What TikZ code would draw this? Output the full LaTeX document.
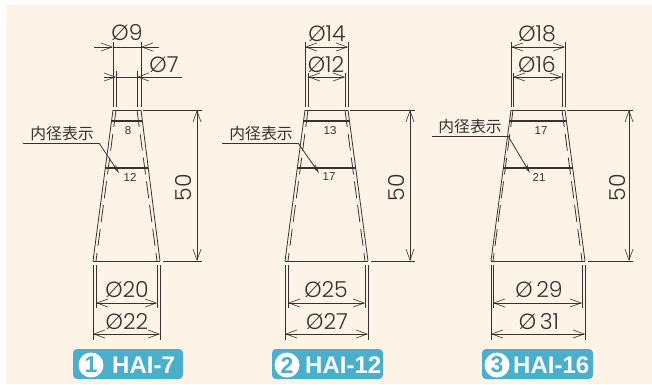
\documentclass[tikz,border=0pt]{standalone}
\usepackage{fontspec}
\usetikzlibrary{arrows.meta}
\setmainfont{Liberation Sans}
\newfontfamily\dimfont[UprightFont=* Light]{Poppins}
\newfontfamily\cjkfont{Noto Sans CJK JP}
\definecolor{paper}{HTML}{FDF3E7}
\definecolor{ink}{HTML}{35322F}
\definecolor{badge}{HTML}{4BAECB}
\tikzset{
  line/.style={draw=ink,line width=0.8pt},
  band/.style={draw=ink,line width=1.5pt},
  innerwall/.style={draw=ink,line width=0.8pt,dash pattern=on 17pt off 7pt},
  dimarrow/.style={draw=ink,line width=0.8pt,{Straight Barb[length=11pt,width=8pt,line width=0.6pt]}-{Straight Barb[length=11pt,width=8pt,line width=0.6pt]}},
  onearrow/.style={draw=ink,line width=0.8pt,-{Straight Barb[length=11pt,width=8pt,line width=0.6pt]}},
  leader/.style={draw=ink,line width=0.8pt,-{Stealth[length=9pt,width=4pt]}},
  dimtext/.style={text=ink,font=\dimfont\fontsize{22}{22}\selectfont,inner sep=0pt},
  smalltext/.style={text=ink,font=\fontsize{11.5}{11.5}\selectfont,inner sep=0pt},
  noteText/.style={text=ink,font=\cjkfont\fontsize{15.8}{16}\selectfont,inner sep=0pt},
  badgebox/.style={fill=badge,rounded corners=4pt,draw=none},
  badgedisc/.style={circle,fill=white,minimum size=25pt,inner sep=0pt,text=badge,font=\bfseries\fontsize{23}{23}\selectfont},
  badgetext/.style={text=white,font=\bfseries\fontsize{24}{24}\selectfont,inner sep=0pt,anchor=west},
}
\begin{document}
\begin{tikzpicture}[x=1pt,y=-1pt]
\path[use as bounding box] (0,0) rectangle (652,384);
\fill[white] (0,0) rectangle (652,384);
\fill[paper] (6,5) rectangle (652,384);
\foreach \n/\xa/\xb/\xc/\xd/\xe/\xf/\xg/\xh/\dimx/\rend/\fifty/\bxa/\bxb/\disc/\hx/\na/\nb/\tb/\tc/\hai in
{1/113/141/116/137/93/160/96/157/197/202/184/73/183/91/112/8/12/128/130/HAI-7,
 2/305/348/308/345/285/368/288/365/410/415/397/272/383/287/305/13/17/330/329/HAI-12,
 3/511/565/513/562/491/585/493/582/629/633/618/482/593/497/513/17/21/541/539/HAI-16}
{
  \coordinate (tl\n) at (\xa,110); \coordinate (tr\n) at (\xb,110);
  \coordinate (bl\n) at (\xe,261); \coordinate (br\n) at (\xf,261);
  \draw[line] (tl\n) -- (tr\n);
  \draw[line] (bl\n) -- (br\n);
  \draw[line] (tl\n) -- (bl\n);
  \draw[line] (tr\n) -- (br\n);
  \draw[innerwall] (\xc,110) -- (\xg,261);
  \draw[innerwall] (\xd,110) -- (\xh,261);
  \draw[line] (\xe,265) -- (\xe,340);
  \draw[line] (\xf,265) -- (\xf,340);
  \draw[line] (\xg,265) -- (\xg,308);
  \draw[line] (\xh,265) -- (\xh,308);
  \draw[dimarrow] (\xg,303) -- (\xh,303);
  \draw[dimarrow] (\xe,334) -- (\xf,334);
  \draw[line] (\xb+2,110) -- (\rend,110);
  \draw[line] (\xf+3,261) -- (\rend,261);
  \draw[dimarrow] (\dimx,110) -- (\dimx,261);
  \node[dimtext,rotate=90] (h\n) at (\fifty,188) {50};
  \node[smalltext] (sa\n) at (\tb,131) {\na};
  \node[smalltext] (sb\n) at (\tc,177) {\nb};
  \fill[badgebox] (\bxa,349) rectangle (\bxb,379);
  \node[badgedisc] (d\n) at (\disc,365) {\n};
  \node[badgetext] (t\n) at (\hx,365) {\hai};
}
\draw[band] (111,121) -- (142,121); \draw[band] (105,168) -- (148,168);
\draw[band] (303,121) -- (350,121); \draw[band] (297,168) -- (356,168);
\draw[band] (509,121) -- (567,121); \draw[band] (503,168) -- (573,168);
\node[noteText] (n1) at (62,134) {内径表示};
\node[noteText] (n2) at (261,134) {内径表示};
\node[noteText] (n3) at (470,127) {内径表示};
\coordinate (a1) at (23,143); \coordinate (k1) at (99,143); \coordinate (p1) at (119,173);
\coordinate (a2) at (222,143); \coordinate (k2) at (298,143); \coordinate (p2) at (319,173);
\coordinate (a3) at (432,136); \coordinate (k3) at (508,136); \coordinate (p3) at (530,173);
\foreach \i in {1,2,3}{
  \draw[line] (a\i) -- (k\i);
  \draw[leader] (k\i) -- (p\i);
}
\draw[line] (113,42) -- (113,107); \draw[line] (141,42) -- (141,107);
\draw[line] (116,71) -- (116,107); \draw[line] (137,71) -- (137,107);
\draw[line] (113,47) -- (141,47);
\draw[line] (116,77) -- (137,77);
\draw[onearrow] (94,47) -- (113,47);
\draw[onearrow] (159,47) -- (141,47);
\draw[onearrow] (104,77) -- (116,77);
\draw[onearrow] (182,77) -- (137,77);
\node[dimtext] (d9) at (127,33) {Ø9};
\node[dimtext] (d7) at (164,65) {Ø7};
\draw[line] (305,42) -- (305,107); \draw[line] (348,42) -- (348,107);
\draw[line] (308,73) -- (308,107); \draw[line] (345,73) -- (345,107);
\draw[dimarrow] (305,47) -- (348,47);
\draw[dimarrow] (308,77) -- (345,77);
\node[dimtext] (d14) at (327,34) {Ø14};
\node[dimtext] (d12) at (326,65) {Ø12};
\draw[line] (511,42) -- (511,107); \draw[line] (565,42) -- (565,107);
\draw[line] (513,73) -- (513,107); \draw[line] (562,73) -- (562,107);
\draw[dimarrow] (511,47) -- (565,47);
\draw[dimarrow] (513,77) -- (562,77);
\node[dimtext] (d18) at (537,34) {Ø18};
\node[dimtext] (d16) at (537,65) {Ø16};
\node[dimtext] (d20) at (127,290) {Ø20};
\node[dimtext] (d22) at (127,322) {Ø22};
\node[dimtext] (d25) at (326,290) {Ø25};
\node[dimtext] (d27) at (327,322) {Ø27};
\node[dimtext] (d29) at (539,290) {Ø\,29};
\node[dimtext] (d31) at (539,322) {Ø\,31};
\end{tikzpicture}
\end{document}
